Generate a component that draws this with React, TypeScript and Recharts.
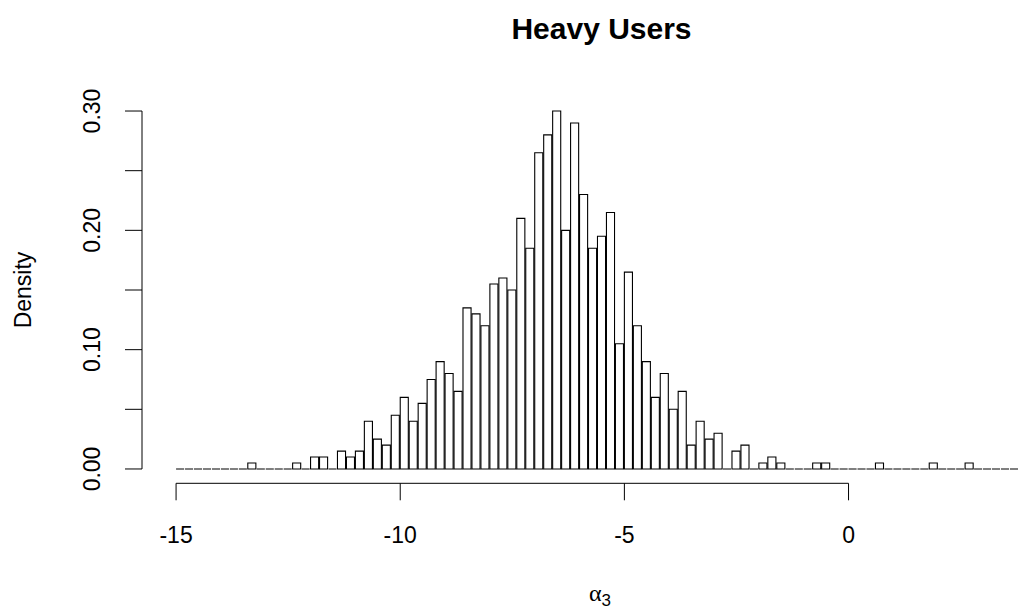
import { BarChart, Bar, XAxis, YAxis, ReferenceLine } from "recharts";

/**
 * Heavy Users - histogram of alpha_3 posterior draws (density scale)
 */

const binStart = -15;
const binWidth = 0.2;

// density per 0.2-wide bin, starting at -15
const density = [
    0, 0, 0, 0, 0, 0, 0, 0, 0.005, 0,
    0, 0, 0, 0.005, 0, 0.01, 0.01, 0, 0.015, 0.01,
    0.015, 0.04, 0.025, 0.02, 0.045, 0.06, 0.04, 0.055, 0.075, 0.09,
    0.08, 0.065, 0.135, 0.13, 0.12, 0.155, 0.16, 0.15, 0.21, 0.185,
    0.265, 0.28, 0.3, 0.2, 0.29, 0.23, 0.185, 0.195, 0.215, 0.105,
    0.165, 0.12, 0.09, 0.06, 0.08, 0.05, 0.065, 0.02, 0.04, 0.025,
    0.03, 0, 0.015, 0.02, 0, 0.005, 0.01, 0.005, 0, 0,
    0, 0.005, 0.005, 0, 0, 0, 0, 0, 0.005, 0,
    0, 0, 0, 0, 0.005, 0, 0, 0, 0.005, 0,
    0, 0, 0, 0, 0,
];

const xTicks = [-15, -10, -5, 0];
const yTicks = [0, 0.05, 0.1, 0.15, 0.2, 0.25, 0.3];
const yLabelled = [0, 0.1, 0.2, 0.3];

const xDomain: [number, number] = [-15.76, 3.78];
const yDomain: [number, number] = [-0.012, 0.312];

const W = 1018;
const H = 612;
const plotLeft = 142;
const font = '"Liberation Sans", Arial, Helvetica, sans-serif';
const ink = "#000";

const chartData = density.map((d, i) => ({
    mid: binStart + (i + 0.5) * binWidth,
    density: d,
}));

const barPx = (binWidth * (W - plotLeft)) / (xDomain[1] - xDomain[0]);

// zero-height bins still draw their outline, like R's hist()
const HistBar = (props: any) => {
    const { x, y, width, height } = props;
    if (x == null || y == null) return null;
    return (
        <path
            d={`M${x},${y + height}V${y}H${x + width}V${y + height}Z`}
            fill="#fff"
            stroke={ink}
            strokeWidth={1.1}
        />
    );
};

const XTick = ({ x, y, payload }: any) => (
    <text x={x} y={y + 41} textAnchor="middle" fontSize={23} fontFamily={font} fill={ink}>
        {payload.value}
    </text>
);

const YTick = ({ y, payload }: any) => {
    if (!yLabelled.includes(payload.value)) return <g />;
    const bx = 100;
    return (
        <text
            x={bx}
            y={y}
            transform={`rotate(-90, ${bx}, ${y})`}
            textAnchor="middle"
            fontSize={23}
            fontFamily={font}
            fill={ink}
        >
            {payload.value.toFixed(2)}
        </text>
    );
};

export default function App() {
    return (
        <div style={{ position: "absolute", left: 0, top: 0, width: W, height: H, background: "#fff" }}>
            <BarChart
                width={W}
                height={H}
                data={chartData}
                margin={{ top: 96.7, right: 0, bottom: 68.7, left: 0 }}
                barGap={0}
            >
                <XAxis
                    type="number"
                    dataKey="mid"
                    domain={xDomain}
                    allowDataOverflow
                    ticks={xTicks}
                    interval={0}
                    axisLine={false}
                    tickLine={{ stroke: ink, strokeWidth: 1 }}
                    tickSize={17}
                    tick={<XTick />}
                    height={60}
                />
                <YAxis
                    type="number"
                    domain={yDomain}
                    allowDataOverflow
                    ticks={yTicks}
                    interval={0}
                    axisLine={false}
                    tickLine={{ stroke: ink, strokeWidth: 1 }}
                    tickSize={17}
                    tick={<YTick />}
                    width={plotLeft}
                />
                <Bar
                    dataKey="density"
                    barSize={barPx}
                    shape={<HistBar />}
                    isAnimationActive={false}
                />
                <ReferenceLine
                    segment={[{ x: xTicks[0], y: yDomain[0] }, { x: xTicks[xTicks.length - 1], y: yDomain[0] }]}
                    stroke={ink}
                    strokeWidth={1}
                    ifOverflow="visible"
                />
                <ReferenceLine
                    segment={[{ x: xDomain[0], y: yTicks[0] }, { x: xDomain[0], y: yTicks[yTicks.length - 1] }]}
                    stroke={ink}
                    strokeWidth={1}
                    ifOverflow="visible"
                />
            </BarChart>
            <svg
                width={W}
                height={H}
                style={{ position: "absolute", left: 0, top: 0, pointerEvents: "none" }}
            >
                <text x={601.5} y={39} textAnchor="middle" fontSize={30} fontWeight="bold" fontFamily={font} fill={ink}>
                    Heavy Users
                </text>
                <text
                    x={31}
                    y={290}
                    transform="rotate(-90, 31, 290)"
                    textAnchor="middle"
                    fontSize={23}
                    fontFamily={font}
                    fill={ink}
                >
                    Density
                </text>
                <text x={600} y={601} textAnchor="middle" fill={ink}>
                    <tspan fontSize={24} fontFamily='"Liberation Serif", serif'>α</tspan>
                    <tspan fontSize={17} fontFamily={font} dy={5}>3</tspan>
                </text>
            </svg>
        </div>
    );
}
